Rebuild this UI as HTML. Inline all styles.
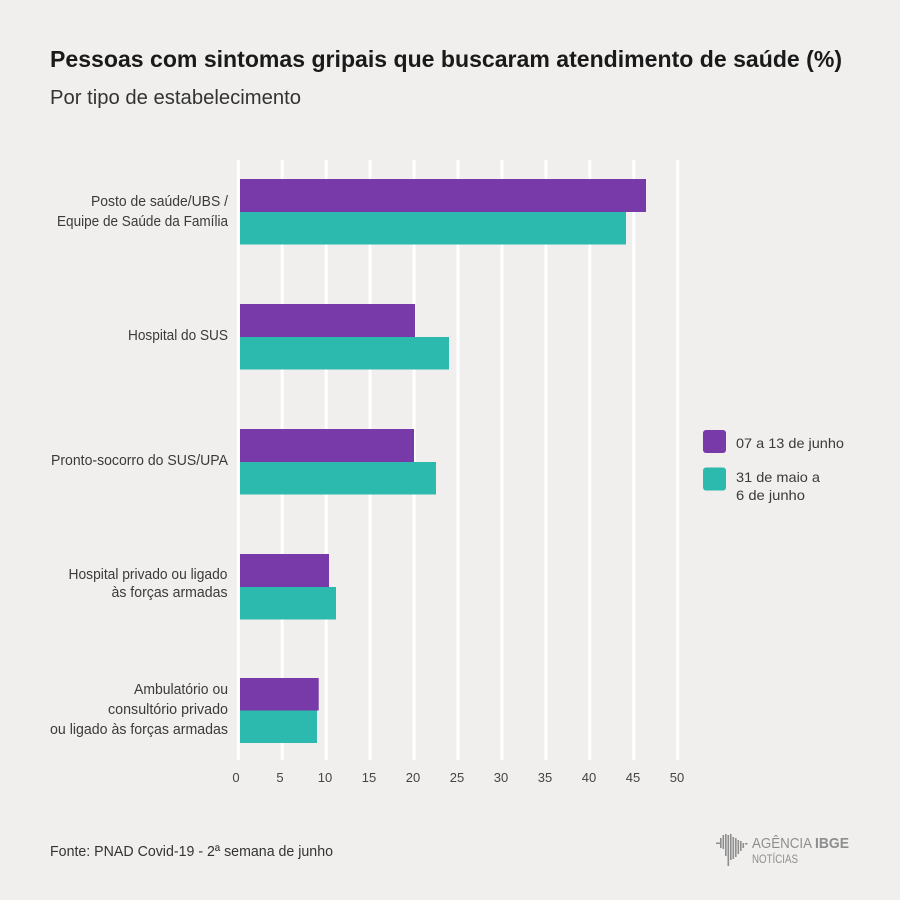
<!DOCTYPE html>
<html><head><meta charset="utf-8">
<style>
html,body{margin:0;padding:0;background:#f0efed;}
svg{display:block;}
text{font-family:"Liberation Sans Narrow","Liberation Sans",sans-serif;}
</style></head>
<body>
<svg width="900" height="900" viewBox="0 0 900 900" xmlns="http://www.w3.org/2000/svg">
<rect width="900" height="900" fill="#f0efed"/>
<!-- Title -->
<text x="50" y="67" font-size="23" font-weight="bold" fill="#1a1a1a" textLength="792" lengthAdjust="spacingAndGlyphs">Pessoas com sintomas gripais que buscaram atendimento de saúde (%)</text>
<text x="50" y="104" font-size="20" fill="#333" textLength="251" lengthAdjust="spacingAndGlyphs">Por tipo de estabelecimento</text>

<!-- gridlines -->
<g stroke="#ffffff" stroke-width="3">
<line x1="238.3" y1="160" x2="238.3" y2="760"/>
<line x1="282.2" y1="160" x2="282.2" y2="760"/>
<line x1="326.2" y1="160" x2="326.2" y2="760"/>
<line x1="370.1" y1="160" x2="370.1" y2="760"/>
<line x1="414.1" y1="160" x2="414.1" y2="760"/>
<line x1="458" y1="160" x2="458" y2="760"/>
<line x1="501.9" y1="160" x2="501.9" y2="760"/>
<line x1="545.9" y1="160" x2="545.9" y2="760"/>
<line x1="589.8" y1="160" x2="589.8" y2="760"/>
<line x1="633.8" y1="160" x2="633.8" y2="760"/>
<line x1="677.7" y1="160" x2="677.7" y2="760"/>
</g>

<!-- bars -->
<g fill="#773aa8">
<rect x="240" y="179" width="406" height="33"/>
<rect x="240" y="304" width="175" height="33"/>
<rect x="240" y="429" width="174" height="33"/>
<rect x="240" y="554" width="89" height="33"/>
<rect x="240" y="678" width="78.7" height="32.5"/>
</g>
<g fill="#2bbaad">
<rect x="240" y="212" width="386" height="32.5"/>
<rect x="240" y="337" width="209" height="32.5"/>
<rect x="240" y="462" width="196" height="32.5"/>
<rect x="240" y="587" width="96" height="32.5"/>
<rect x="240" y="710.5" width="77" height="32.5"/>
</g>

<!-- category labels -->
<g font-size="15" fill="#3a3a3a" text-anchor="end">
<text x="228" y="206" textLength="137" lengthAdjust="spacingAndGlyphs">Posto de saúde/UBS /</text>
<text x="228" y="226" textLength="171" lengthAdjust="spacingAndGlyphs">Equipe de Saúde da Família</text>
<text x="228" y="340" textLength="100" lengthAdjust="spacingAndGlyphs">Hospital do SUS</text>
<text x="228" y="465" textLength="177" lengthAdjust="spacingAndGlyphs">Pronto-socorro do SUS/UPA</text>
<text x="227.5" y="579" textLength="159" lengthAdjust="spacingAndGlyphs">Hospital privado ou ligado</text>
<text x="227.5" y="597" textLength="116" lengthAdjust="spacingAndGlyphs">às forças armadas</text>
<text x="228" y="694" textLength="94" lengthAdjust="spacingAndGlyphs">Ambulatório ou</text>
<text x="228" y="714" textLength="120" lengthAdjust="spacingAndGlyphs">consultório privado</text>
<text x="228" y="734" textLength="178" lengthAdjust="spacingAndGlyphs">ou ligado às forças armadas</text>
</g>

<!-- tick labels -->
<g font-size="13" fill="#444" text-anchor="middle">
<text x="236" y="782">0</text>
<text x="280" y="782">5</text>
<text x="325" y="782">10</text>
<text x="369" y="782">15</text>
<text x="413" y="782">20</text>
<text x="457" y="782">25</text>
<text x="501" y="782">30</text>
<text x="545" y="782">35</text>
<text x="589" y="782">40</text>
<text x="633" y="782">45</text>
<text x="677" y="782">50</text>
</g>

<!-- legend -->
<rect x="703" y="430" width="23" height="23" rx="3" fill="#773aa8"/>
<rect x="703" y="467.5" width="23" height="23" rx="3" fill="#2bbaad"/>
<g font-size="14" fill="#3a3a3a">
<text x="736" y="448" textLength="108" lengthAdjust="spacingAndGlyphs">07 a 13 de junho</text>
<text x="736" y="482" textLength="84" lengthAdjust="spacingAndGlyphs">31 de maio a</text>
<text x="736" y="500" textLength="69" lengthAdjust="spacingAndGlyphs">6 de junho</text>
</g>

<!-- footer -->
<text x="50" y="856" font-size="15" fill="#333" textLength="283" lengthAdjust="spacingAndGlyphs">Fonte: PNAD Covid-19 - 2ª semana de junho</text>

<!-- logo -->
<g fill="#8e8e8e">
<rect x="716" y="842.5" width="5" height="1.5"/>
<rect x="720" y="838" width="1.6" height="10"/>
<rect x="722.5" y="835" width="1.6" height="14"/>
<rect x="725" y="834" width="1.6" height="22"/>
<rect x="727.5" y="835" width="1.6" height="31"/>
<rect x="730" y="834" width="1.6" height="26"/>
<rect x="732.5" y="837" width="1.6" height="22"/>
<rect x="735" y="838" width="1.6" height="19"/>
<rect x="737.5" y="840" width="1.6" height="14"/>
<rect x="740" y="841" width="1.6" height="10"/>
<rect x="742.5" y="843" width="1.6" height="5"/>
<rect x="745" y="843" width="2.5" height="1.5"/>
</g>
<text x="752" y="848" font-size="15" fill="#8e8e8e" textLength="60" lengthAdjust="spacingAndGlyphs">AGÊNCIA</text>
<text x="815" y="848" font-size="15" font-weight="bold" fill="#8e8e8e" textLength="34" lengthAdjust="spacingAndGlyphs">IBGE</text>
<text x="752" y="863" font-size="11.5" fill="#8e8e8e" textLength="46" lengthAdjust="spacingAndGlyphs">NOTÍCIAS</text>
</svg>
</body></html>
